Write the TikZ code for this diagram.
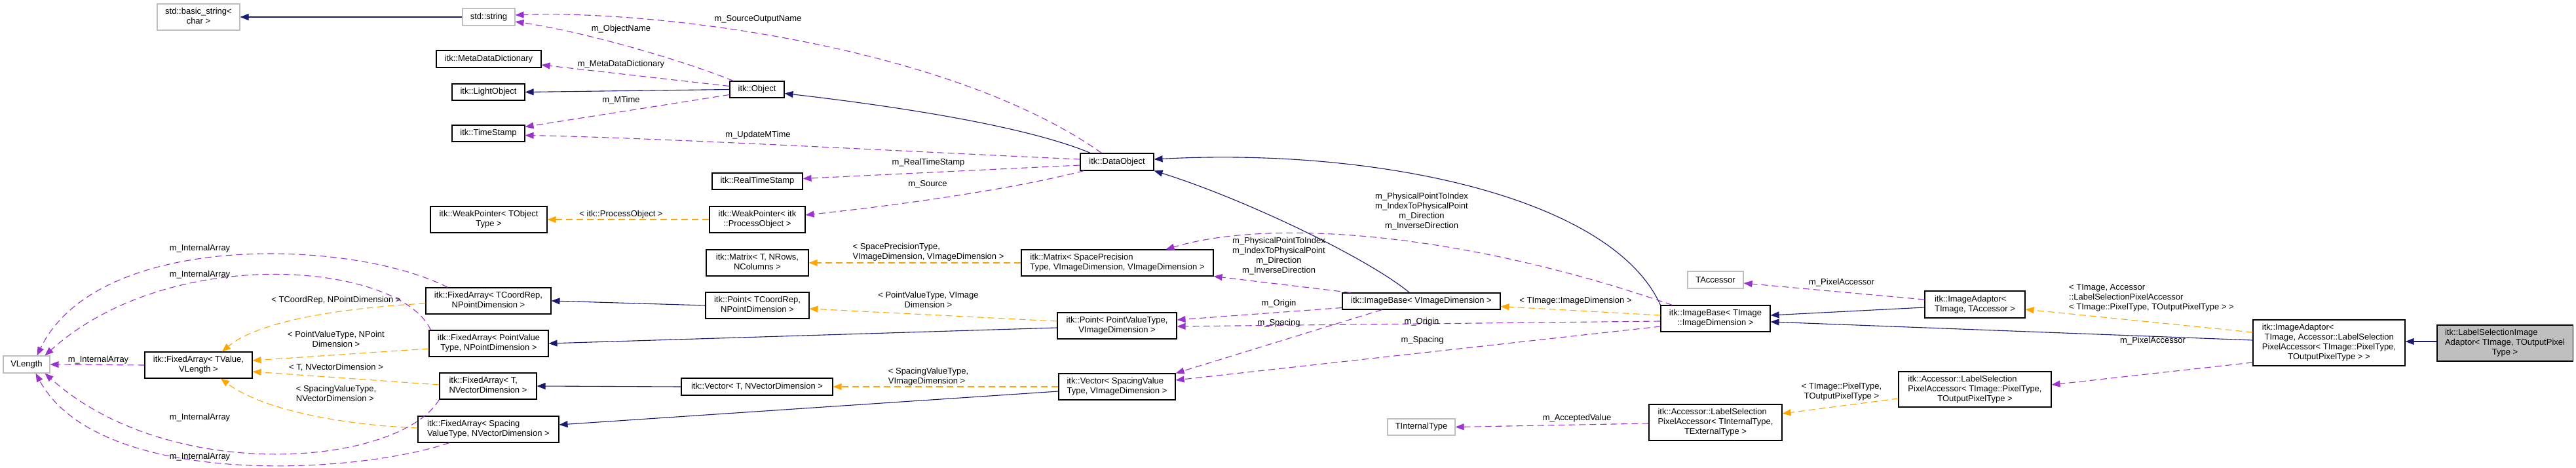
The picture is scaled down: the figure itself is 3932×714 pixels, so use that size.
\documentclass[tikz,border=0pt]{standalone}
\usepackage{fontspec}
\setmainfont{Liberation Sans}
\usetikzlibrary{arrows.meta,calc}
\definecolor{inhc}{HTML}{191970}
\definecolor{usec}{HTML}{9A32CD}
\definecolor{tplc}{HTML}{FFA500}
\definecolor{extc}{HTML}{BFBFBF}
\newcommand\dxl[2]{\begin{tabular}{@{}l@{}}#1\\\multicolumn{1}{@{}c@{}}{#2}\end{tabular}}
\newcommand\dxll[1]{\begin{tabular}{@{}l@{}}#1\end{tabular}}
\tikzset{
  boxn/.style={draw=black, line width=1.1pt, fill=white, inner sep=0pt, align=center},
  boxext/.style={boxn, draw=extc},
  boxmain/.style={boxn, fill=extc},
  tipx/.style={-{Triangle[length=13pt,width=10pt]}},
  edgeinh/.style={draw=inhc, line width=1.1pt, tipx},
  edgeuse/.style={draw=usec, line width=1.1pt, dash pattern=on 10pt off 6pt, tipx},
  edgetpl/.style={draw=tplc, line width=1.1pt, dash pattern=on 10pt off 6pt, tipx},
  lbl/.style={inner sep=0pt, align=center, text=black},
}
\begin{document}
\begin{tikzpicture}[x=1pt,y=-1pt, every node/.style={font=\fontsize{13}{15}\selectfont}]
\useasboundingbox (0,0) rectangle (3932,714);
% nodes
\node[boxext, minimum width=126pt, minimum height=40pt] (bstr) at (303,26) {\dxl{std::basic\_string<}{char >}};
\node[boxext, minimum width=80pt, minimum height=26pt] (str) at (746,26) {std::string};
\node[boxn, minimum width=160pt, minimum height=26pt] (mdd) at (746,90) {itk::MetaDataDictionary};
\node[boxn, minimum width=111pt, minimum height=25pt] (lobj) at (745.5,140.5) {itk::LightObject};
\node[boxn, minimum width=111pt, minimum height=25pt] (tstamp) at (745.5,203.5) {itk::TimeStamp};
\node[boxn, minimum width=178pt, minimum height=40pt] (wpT) at (746,335) {\dxl{itk::WeakPointer< TObject}{Type >}};
\node[boxn, minimum width=83pt, minimum height=25pt] (obj) at (1155.5,136.5) {itk::Object};
\node[boxn, minimum width=138pt, minimum height=25pt] (rts) at (1156,276.5) {itk::RealTimeStamp};
\node[boxn, minimum width=146pt, minimum height=40pt] (wpP) at (1156,335) {\dxl{itk::WeakPointer< itk}{::ProcessObject >}};
\node[boxn, minimum width=112pt, minimum height=26pt] (dobj) at (1705,247) {itk::DataObject};
\node[boxext, minimum width=71pt, minimum height=26pt] (vlen) at (40.5,556) {VLength};
\node[boxn, minimum width=164pt, minimum height=40pt] (faTV) at (303,557) {\dxl{itk::FixedArray< TValue,}{VLength >}};
\node[boxn, minimum width=191pt, minimum height=40pt] (faTC) at (745.5,459) {\dxl{itk::FixedArray< TCoordRep,}{NPointDimension >}};
\node[boxn, minimum width=182pt, minimum height=40pt] (faPV) at (746,524) {\dxl{itk::FixedArray< PointValue}{Type, NPointDimension >}};
\node[boxn, minimum width=148pt, minimum height=40pt] (faT) at (745,589) {\dxl{itk::FixedArray< T,}{NVectorDimension >}};
\node[boxn, minimum width=215pt, minimum height=40pt] (faS) at (745.5,655) {\dxl{itk::FixedArray< Spacing}{ValueType, NVectorDimension >}};
\node[boxn, minimum width=156pt, minimum height=40pt] (matT) at (1156,401) {\dxl{itk::Matrix< T, NRows,}{NColumns >}};
\node[boxn, minimum width=158pt, minimum height=40pt] (ptT) at (1156,466) {\dxl{itk::Point< TCoordRep,}{NPointDimension >}};
\node[boxn, minimum width=231pt, minimum height=26pt] (vecT) at (1155.5,590) {itk::Vector< T, NVectorDimension >};
\node[boxn, minimum width=293pt, minimum height=40pt] (matS) at (1705.5,401) {\dxl{itk::Matrix< SpacePrecision}{Type, VImageDimension, VImageDimension >}};
\node[boxn, minimum width=241pt, minimum height=25pt] (ibV) at (2169.5,459.5) {itk::ImageBase< VImageDimension >};
\node[boxn, minimum width=182pt, minimum height=40pt] (ptP) at (1705,497) {\dxl{itk::Point< PointValueType,}{VImageDimension >}};
\node[boxn, minimum width=178pt, minimum height=40pt] (vecS) at (1705,590) {\dxl{itk::Vector< SpacingValue}{Type, VImageDimension >}};
\node[boxext, minimum width=103pt, minimum height=25pt] (tint) at (2169.5,651.5) {TInternalType};
\node[boxext, minimum width=85pt, minimum height=26pt] (tacc) at (2618.5,427) {TAccessor};
\node[boxn, minimum width=167pt, minimum height=40pt] (ibT) at (2618.5,486) {\dxl{itk::ImageBase< TImage}{::ImageDimension >}};
\node[boxn, minimum width=153pt, minimum height=41pt] (iaT) at (3014.5,464.5) {\dxl{itk::ImageAdaptor<}{TImage, TAccessor >}};
\node[boxn, minimum width=203pt, minimum height=55pt] (lspI) at (2618.5,644.5) {\dxl{itk::Accessor::LabelSelection\\PixelAccessor< TInternalType,}{TExternalType >}};
\node[boxn, minimum width=233pt, minimum height=54pt] (lspP) at (3014.5,594) {\dxl{itk::Accessor::LabelSelection\\PixelAccessor< TImage::PixelType,}{TOutputPixelType >}};
\node[boxn, minimum width=232pt, minimum height=70pt] (iaL) at (3555,523) {\dxl{itk::ImageAdaptor<\\\ TImage, Accessor::LabelSelection\\PixelAccessor< TImage::PixelType,}{TOutputPixelType > >}};
\node[boxmain, minimum width=207pt, minimum height=55pt] (lsia) at (3823.5,523.5) {\dxl{itk::LabelSelectionImage\\Adaptor< TImage, TOutputPixel}{Type >}};
% edges
\draw[edgeinh] (str.west) -- (bstr.east);
\draw[edgeuse] ($(obj.north west)+(6,0)$) .. controls (1050,95) and (900,50) .. ($(str.east)+(0,7)$);
\draw[edgeuse] ($(dobj.north west)+(33,0)$) .. controls (1450,70) and (1000,15) .. ($(str.east)+(0,-3)$);
\draw[edgeuse] ($(obj.west)+(0,-5)$) -- ($(mdd.east)+(0,9)$);
\draw[edgeinh] (obj.west) -- (lobj.east);
\draw[edgeuse] ($(obj.west)+(0,8)$) -- ($(tstamp.east)+(0,-10)$);
\draw[edgeuse] ($(dobj.west)+(0,-4)$) .. controls (1400,232) and (1000,210) .. ($(tstamp.east)+(0,3)$);
\draw[edgeinh] ($(dobj.north west)+(16,0)$) .. controls (1560,190) and (1350,160) .. ($(obj.east)+(0,6)$);
\draw[edgeuse] ($(dobj.west)+(0,5)$) -- ($(rts.east)+(0,-4)$);
\draw[edgeuse] ($(dobj.south west)+(6,0)$) .. controls (1560,285) and (1400,310) .. ($(wpP.east)+(0,-7)$);
\draw[edgetpl] (wpP.west) -- (wpT.east);
\draw[edgeinh] ($(ibV.north)+(-18,0)$) .. controls (2085,392) and (1895,302) .. (dobj.south east);
\draw[edgeinh] (ibT.north west) .. controls (2460,300) and (2100,225) .. ($(dobj.east)+(0,-4)$);
\draw[edgetpl] (matS.west) -- (matT.east);
\draw[edgeinh] (ptT.west) -- (faTC.east);
\draw[edgetpl] ($(ptP.west)+(0,-7)$) -- ($(ptT.east)+(0,5)$);
\draw[edgeinh] ($(ptP.west)+(0,3)$) -- (faPV.east);
\draw[edgeinh] (vecT.west) -- (faT.east);
\draw[edgetpl] (vecS.west) -- (vecT.east);
\draw[edgeinh] ($(vecS.west)+(0,7)$) -- ($(faS.east)+(0,-7)$);
\draw[edgetpl] ($(faTC.west)+(0,4)$) .. controls (550,468) and (400,485) .. ($(faTV.north)+(36,0)$);
\draw[edgetpl] ($(faPV.west)+(0,8)$) -- ($(faTV.east)+(0,-7)$);
\draw[edgetpl] ($(faT.west)+(0,-2)$) -- ($(faTV.east)+(0,10)$);
\draw[edgetpl] ($(faS.west)+(0,-2)$) .. controls (520,648) and (400,625) .. ($(faTV.south)+(34,0)$);
\draw[edgeuse] (faTV.west) -- (vlen.east);
\draw[edgeuse] ($(faTC.north west)+(34,0)$) .. controls (540,365) and (150,350) .. ($(vlen.north)+(16,0)$);
\draw[edgeuse] ($(faPV.north west)+(3,0)$) .. controls (610,400) and (260,370) .. ($(vlen.north)+(28,0)$);
\draw[edgeuse] (faT.south west) .. controls (610,711) and (260,741) .. ($(vlen.south)+(28,0)$);
\draw[edgeuse] ($(faS.south)+(-59.5,0)$) .. controls (540,725) and (150,745) .. ($(vlen.south)+(14,0)$);
\draw[edgeuse] ($(ibV.north west)+(13,0)$) -- (matS.south east);
\draw[edgeuse] ($(ibT.north west)+(18,0)$) .. controls (2250,360) and (1950,330) .. ($(matS.north)+(74,0)$);
\draw[edgeuse] ($(ibV.west)+(0,10)$) -- ($(ptP.east)+(0,-9)$);
\draw[edgeuse] ($(ibV.south west)+(61,0)$) -- (vecS.north east);
\draw[edgeuse] ($(ibT.west)+(0,4)$) -- ($(ptP.east)+(0,1)$);
\draw[edgeuse] ($(ibT.west)+(0,12)$) -- ($(vecS.east)+(0,-10)$);
\draw[edgetpl] ($(ibT.west)+(0,-5)$) -- ($(ibV.east)+(0,8)$);
\draw[edgeuse] ($(iaT.west)+(0,-7.5)$) -- ($(tacc.east)+(0,5)$);
\draw[edgeinh] ($(iaT.west)+(0,4.5)$) -- ($(ibT.east)+(0,-5)$);
\draw[edgetpl] ($(iaL.west)+(0,-16)$) -- ($(iaT.east)+(0,7.5)$);
\draw[edgeinh] ($(iaL.west)+(0,-4)$) -- ($(ibT.east)+(0,5)$);
\draw[edgeuse] ($(iaL.west)+(0,30)$) -- ($(lspP.east)+(0,-7)$);
\draw[edgetpl] ($(lspP.west)+(0,14)$) -- ($(lspI.east)+(0,-13.5)$);
\draw[edgeuse] ($(lspI.west)+(0,1.5)$) -- (tint.east);
\draw[edgeinh] ($(lsia.west)+(0,-2.5)$) -- ($(iaL.east)+(0,-2)$);
% labels
\node[lbl] (l1) at (948,44) {m\_ObjectName};
\node[lbl] (l2) at (1157,29) {m\_SourceOutputName};
\node[lbl] (l3) at (948,98) {m\_MetaDataDictionary};
\node[lbl] (l4) at (948,153) {m\_MTime};
\node[lbl] (l5) at (1157,206) {m\_UpdateMTime};
\node[lbl] (l6) at (1417,248) {m\_RealTimeStamp};
\node[lbl] (l7) at (1416,281) {m\_Source};
\node[lbl] (l8) at (948,327) {< itk::ProcessObject >};
\node[lbl] (l9) at (1417,384.5) {\dxl{< SpacePrecisionType,}{VImageDimension, VImageDimension >}};
\node[lbl] (l10) at (1417,458.5) {\dxl{< PointValueType, VImage}{Dimension >}};
\node[lbl] (l11) at (1417,574.5) {\dxll{< SpacingValueType,\\VImageDimension >}};
\node[lbl] (l12) at (513,458) {< TCoordRep, NPointDimension >};
\node[lbl] (l13) at (513,518.5) {\dxl{< PointValueType, NPoint}{Dimension >}};
\node[lbl] (l14) at (513,561) {< T, NVectorDimension >};
\node[lbl] (l15) at (513,601.5) {\dxll{< SpacingValueType,\\NVectorDimension >}};
\node[lbl] (l16) at (150,549) {m\_InternalArray};
\node[lbl] (l17) at (305,379) {m\_InternalArray};
\node[lbl] (l18) at (305,419) {m\_InternalArray};
\node[lbl] (l19) at (305,637) {m\_InternalArray};
\node[lbl] (l20) at (305,697) {m\_InternalArray};
\node[lbl] (l21) at (1952,391) {m\_PhysicalPointToIndex\\m\_IndexToPhysicalPoint\\m\_Direction\\m\_InverseDirection};
\node[lbl] (l22) at (2170,322.5) {m\_PhysicalPointToIndex\\m\_IndexToPhysicalPoint\\m\_Direction\\m\_InverseDirection};
\node[lbl] (l23) at (1952,463) {m\_Origin};
\node[lbl] (l24) at (1952,493) {m\_Spacing};
\node[lbl] (l25) at (2170,491) {m\_Origin};
\node[lbl] (l26) at (2171,519) {m\_Spacing};
\node[lbl] (l27) at (2405,459) {< TImage::ImageDimension >};
\node[lbl] (l28) at (2811,431) {m\_PixelAccessor};
\node[lbl] (l29) at (3284,454) {\dxll{< TImage, Accessor\\::LabelSelectionPixelAccessor\\< TImage::PixelType, TOutputPixelType > >}};
\node[lbl] (l30) at (3286,520) {m\_PixelAccessor};
\node[lbl] (l31) at (2811,597.5) {\dxl{< TImage::PixelType,}{TOutputPixelType >}};
\node[lbl] (l32) at (2407,638) {m\_AcceptedValue};
\end{tikzpicture}
\end{document}
